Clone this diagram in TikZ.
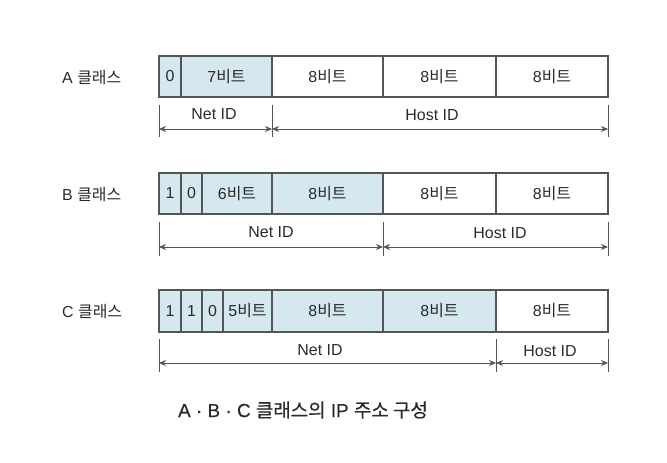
\documentclass[tikz,border=0pt]{standalone}
\usepackage{fontspec}
\setmainfont{Liberation Sans}
\newfontfamily\kr{Noto Sans CJK KR}
\newfontfamily\krcap[FakeBold=0.5]{Noto Sans CJK KR}
\newfontfamily\latcap[FakeBold=0.5]{Liberation Sans}
\usetikzlibrary{arrows.meta}
\definecolor{cellblue}{HTML}{D5E7EF}
\definecolor{lineg}{HTML}{555555}
\definecolor{txt}{HTML}{2A2A2A}
\newcommand{\bt}{{\kr 비트}}
\begin{document}
\begin{tikzpicture}[x=1bp,y=-1bp,
  cell/.style={draw=lineg, line width=1.1bp, minimum height=41bp, inner sep=0pt, outer sep=0pt, anchor=west, font=\fontsize{16}{18}\selectfont, text=txt},
  netc/.style={cell, fill=cellblue},
  hostc/.style={cell, fill=white},
  rowlab/.style={anchor=west, inner sep=0pt, font=\fontsize{16}{18}\selectfont, text=txt},
  idlab/.style={inner sep=0pt, font=\fontsize{16}{18}\selectfont, text=txt},
  tick/.style={draw=lineg, line width=0.9bp},
  dim/.style={draw=lineg, line width=0.9bp, {Stealth[length=7bp,width=6bp]}-{Stealth[length=7bp,width=6bp]}},
  captext/.style={inner sep=0pt, font=\fontsize{19}{21}\selectfont, text=txt}
]
\useasboundingbox (0,0) rectangle (667,463);
% ---------- Row A ----------
\node[rowlab] (la) at (62,77.5) {A {\kr 클래스}};
\node[netc, minimum width=22bp] (a1) at (159,76.5) {0};
\node[netc, minimum width=91bp] (a2) at (181,76.5) {7\bt};
\node[hostc, minimum width=111bp] (a3) at (272,76.5) {8\bt};
\node[hostc, minimum width=113bp] (a4) at (383,76.5) {8\bt};
\node[hostc, minimum width=112bp] (a5) at (496,76.5) {8\bt};
\coordinate (ta1) at (159,105); \coordinate (tb1) at (159,137);
\coordinate (ta2) at (272,105); \coordinate (tb2) at (272,137);
\coordinate (ta3) at (608,105); \coordinate (tb3) at (608,137);
\draw[tick] (ta1) -- (tb1);
\draw[tick] (ta2) -- (tb2);
\draw[tick] (ta3) -- (tb3);
\coordinate (aa1) at (159,129); \coordinate (aa2) at (272,129); \coordinate (aa3) at (608,129);
\draw[dim] (aa1) -- (aa2);
\draw[dim] (aa2) -- (aa3);
\node[idlab] (anet) at (214,114) {Net ID};
\node[idlab] (ahost) at (432,115) {Host ID};
% ---------- Row B ----------
\node[rowlab] (lb) at (62,194.5) {B {\kr 클래스}};
\node[netc, minimum width=22bp] (b1) at (159,193.5) {1};
\node[netc, minimum width=21bp] (b2) at (181,193.5) {0};
\node[netc, minimum width=70bp] (b3) at (202,193.5) {6\bt};
\node[netc, minimum width=111bp] (b4) at (272,193.5) {8\bt};
\node[hostc, minimum width=113bp] (b5) at (383,193.5) {8\bt};
\node[hostc, minimum width=112bp] (b6) at (496,193.5) {8\bt};
\coordinate (tbb1) at (159,222); \coordinate (tbe1) at (159,256);
\coordinate (tbb2) at (383,222); \coordinate (tbe2) at (383,256);
\coordinate (tbb3) at (608,222); \coordinate (tbe3) at (608,256);
\draw[tick] (tbb1) -- (tbe1);
\draw[tick] (tbb2) -- (tbe2);
\draw[tick] (tbb3) -- (tbe3);
\coordinate (ba1) at (159,247); \coordinate (ba2) at (383,247); \coordinate (ba3) at (608,247);
\draw[dim] (ba1) -- (ba2);
\draw[dim] (ba2) -- (ba3);
\node[idlab] (bnet) at (271,232) {Net ID};
\node[idlab] (bhost) at (500,233) {Host ID};
% ---------- Row C ----------
\node[rowlab] (lc) at (62,312) {C {\kr 클래스}};
\node[netc, minimum width=22bp, minimum height=42bp] (c1) at (159,311) {1};
\node[netc, minimum width=21bp, minimum height=42bp] (c2) at (181,311) {1};
\node[netc, minimum width=21bp, minimum height=42bp] (c3) at (202,311) {0};
\node[netc, minimum width=49bp, minimum height=42bp] (c4) at (223,311) {5\bt};
\node[netc, minimum width=111bp, minimum height=42bp] (c5) at (272,311) {8\bt};
\node[netc, minimum width=113bp, minimum height=42bp] (c6) at (383,311) {8\bt};
\node[hostc, minimum width=112bp, minimum height=42bp] (c7) at (496,311) {8\bt};
\coordinate (tcb1) at (159,339); \coordinate (tce1) at (159,372);
\coordinate (tcb2) at (496,339); \coordinate (tce2) at (496,372);
\coordinate (tcb3) at (608,339); \coordinate (tce3) at (608,372);
\draw[tick] (tcb1) -- (tce1);
\draw[tick] (tcb2) -- (tce2);
\draw[tick] (tcb3) -- (tce3);
\coordinate (ca1) at (159,363); \coordinate (ca2) at (496,363); \coordinate (ca3) at (608,363);
\draw[dim] (ca1) -- (ca2);
\draw[dim] (ca2) -- (ca3);
\node[idlab] (cnet) at (320,350) {Net ID};
\node[idlab] (chost) at (550,351) {Host ID};
% ---------- Caption ----------
\node[captext] (caption) at (303,410) {\latcap A · B · C {\krcap 클래스의} IP {\krcap 주소 구성}};
\end{tikzpicture}
\end{document}
